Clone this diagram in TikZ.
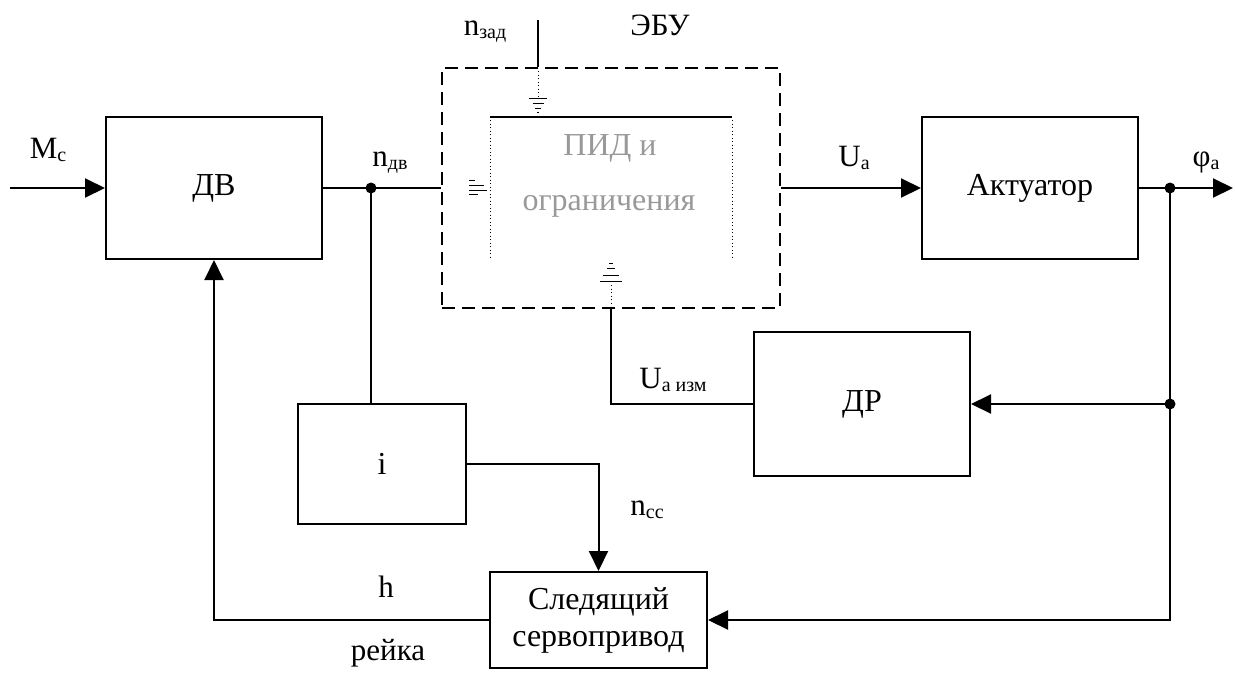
\documentclass[tikz,border=0pt]{standalone}
\usepackage{fontspec}
\setmainfont{Liberation Serif}
\usetikzlibrary{arrows.meta}
\newcommand{\subx}[1]{\raisebox{-3pt}{\fontsize{20}{20}\selectfont #1}}
\begin{document}
\begin{tikzpicture}[x=1pt,y=-1pt,line width=2pt,
  blk/.style={draw,minimum width=216pt,minimum height=142pt,inner sep=0pt,font=\fontsize{32}{36}\selectfont,align=center},
  arr/.style={-{Triangle[length=20pt,width=19pt]}},
  lbl/.style={font=\fontsize{31}{34}\selectfont,anchor=base,inner sep=0pt},
  jdot/.style={circle,fill,inner sep=0pt,minimum size=11pt},
  ebubox/.style={draw,dash pattern=on 13pt off 7pt,minimum width=338pt,minimum height=240pt,inner sep=0pt},
  dots/.style={line width=1pt,dash pattern=on 1pt off 2.5pt},
  thin/.style={line width=1pt},
  ghost/.style={font=\fontsize{32}{34}\selectfont,text=black!40,anchor=base,inner sep=0pt}]
\useasboundingbox (0,0) rectangle (1235,678);
% blocks
\node[blk] (dv) at (214,188) {ДВ};
\node[ebubox] (ebu) at (611,188) {};
\node[blk] (akt) at (1030,188) {Актуатор};
\node[blk,minimum height=144pt] (dr) at (862,404) {ДР};
\node[blk,minimum width=168pt,minimum height=120pt] (i) at (382,464) {i};
\node[blk,minimum width=217pt,minimum height=96pt,font=\fontsize{32}{37}\selectfont] (servo) at (598.5,620) {Следящий\\сервопривод};
% coordinates
\coordinate (mcin) at (10,188);
\coordinate (phiout) at (1233,188);
\coordinate (nzad) at (538,20);
\node[jdot] (j1) at (371,188) {};
\node[jdot] (j2) at (1170,188) {};
\node[jdot] (j3) at (1170,404) {};
% connectors
\draw[arr] (mcin) -- (dv.west);
\draw (dv.east) -- (ebu.west);
\draw[arr] (ebu.east) -- (akt.west);
\draw[arr] (akt.east) -- (phiout);
\draw (j1.center) -- (j1.center |- i.north);
\draw (j2.center) -- (j3.center);
\draw[arr] (j3.center) -- (dr.east);
\draw[arr] (j3.center) |- (servo.east);
\draw (dr.west) -| (ebu.south);
\draw[arr] (i.east) -| (servo.north);
\draw[arr] (servo.west) -| (dv.south);
\draw (nzad) -- (nzad |- ebu.north);
% inner (ПИД) block inside the ECU
\draw[line width=1.3pt] (490,117) -- (732,117);
\draw[dots] (490,120) -- (490,258);
\draw[dots] (732,120) -- (732,258);
\draw[dots] (538,71) -- (538,96);
\draw[thin] (529,98) -- (547,98) (533,103) -- (544,103) (535,108) -- (541,108) (537,112) -- (539,112);
\draw[thin] (469,180) -- (475,180) (469,185) -- (484,185) (469,190) -- (487,190) (469,194) -- (478,194);
\draw[thin] (609,263) -- (613,263) (607,268) -- (615,268) (603,275) -- (619,275) (600,281) -- (622,281);
\draw[dots] (611,285) -- (611,306);
\node[ghost] (pid) at (610,155) {ПИД и};
\node[ghost] (ogr) at (609,210) {ограничения};
% labels
\node[lbl] (lmc) at (48,158) {M\subx{c}};
\node[lbl] (lndv) at (390,166) {n\subx{дв}};
\node[lbl] (lnzad) at (485,35) {n\subx{зад}};
\node[lbl] (lebu) at (660,35) {ЭБУ};
\node[lbl] (lua) at (854,166) {U\subx{a}};
\node[lbl] (lphi) at (1206,166) {φ\subx{a}};
\node[lbl] (luaizm) at (673,388) {U\subx{a изм}};
\node[lbl] (lncc) at (647,515) {n\subx{cc}};
\node[lbl] (lh) at (386,597) {h};
\node[lbl] (lrejka) at (388,660) {рейка};
\end{tikzpicture}
\end{document}
